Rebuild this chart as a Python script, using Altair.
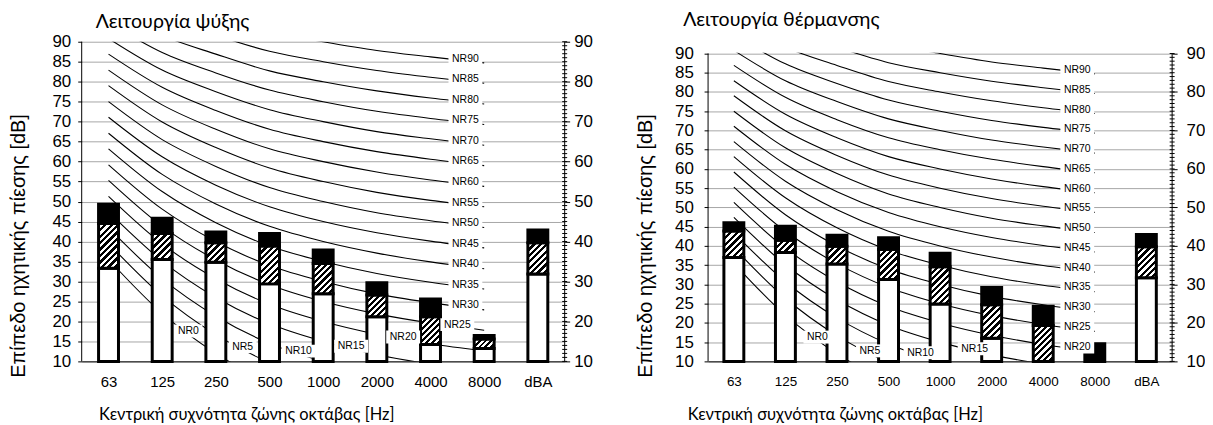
import json
import altair as alt
import pandas as pd

# ---------------- data ----------------
categories = ["63", "125", "250", "500", "1000", "2000", "4000", "8000", "dBA"]

# Cooling mode (stacked levels, dB)
cool_low = [33.3, 35.5, 34.8, 29.4, 26.9, 21.2, 14.2, 13.2, 31.9]
cool_mid = [44.5, 42.0, 39.7, 38.9, 34.5, 26.6, 21.2, 15.6, 39.7]
cool_high = [49.3, 45.8, 42.4, 42.0, 37.9, 29.7, 25.6, 16.5, 42.9]

# Heating mode
heat_low = [37.0, 38.3, 35.3, 31.3, 24.9, 16.0, 10.0, 10.0, 31.7]
heat_mid = [43.9, 41.5, 39.9, 39.1, 34.6, 24.7, 19.3, 10.0, 39.8]
heat_high = [46.0, 45.1, 42.8, 42.1, 38.1, 29.2, 24.3, 14.6, 43.0]

# NR curves (63 ... 8000 Hz)
nr_levels = [0, 5, 10, 15, 20, 25, 30, 35, 40, 45, 50, 55, 60, 65, 70, 75, 80, 85, 90]
nr_table = {
    0: [35.5, 22.0, 12.0, 4.8, 0.0, -3.5, -6.1, -8.0],
    5: [39.5, 26.4, 16.7, 9.7, 5.0, 1.6, -1.0, -2.9],
    10: [43.4, 30.7, 21.3, 14.5, 10.0, 6.6, 4.2, 2.3],
    15: [47.4, 35.1, 26.0, 19.4, 15.0, 11.7, 9.3, 7.5],
    20: [51.3, 39.4, 30.7, 24.3, 20.0, 16.8, 14.4, 12.6],
    25: [55.3, 43.8, 35.4, 29.2, 25.0, 21.9, 19.6, 17.8],
    30: [59.2, 48.1, 40.0, 34.0, 30.0, 26.9, 24.7, 22.9],
    35: [63.2, 52.5, 44.7, 38.9, 35.0, 32.0, 29.8, 28.1],
    40: [67.1, 56.8, 49.4, 43.8, 40.0, 37.1, 34.9, 33.2],
    45: [71.1, 61.2, 54.1, 48.7, 45.0, 42.2, 40.1, 38.4],
    50: [75.0, 65.5, 58.8, 53.5, 50.0, 47.2, 45.2, 43.5],
    55: [79.0, 69.9, 63.5, 58.4, 55.0, 52.3, 50.3, 48.7],
    60: [82.9, 74.2, 68.1, 63.2, 60.0, 57.4, 55.4, 53.8],
    65: [86.9, 78.6, 72.8, 68.1, 65.0, 62.5, 60.6, 59.0],
    70: [90.8, 82.9, 77.5, 73.0, 70.0, 67.5, 65.7, 64.1],
    75: [94.8, 87.3, 82.2, 77.9, 75.0, 72.6, 70.8, 69.3],
    80: [98.7, 91.6, 86.9, 82.7, 80.0, 77.7, 75.9, 74.4],
    85: [102.7, 96.0, 91.6, 87.6, 85.0, 82.8, 81.1, 79.6],
    90: [106.6, 100.3, 96.2, 92.5, 90.0, 87.8, 86.2, 84.7],
}

# where each NR label sits along its curve (category index units)
cool_label_pos = [1.49, 2.50, 3.54, 4.52, 5.49, 6.50, 6.65, 6.65, 6.65, 6.65,
                  6.65, 6.65, 6.65, 6.65, 6.65, 6.65, 6.65, 6.65, 6.65]
heat_label_pos = [1.62, 2.64, 3.62, 4.67, 6.66, 6.66, 6.66, 6.66, 6.66, 6.66,
                  6.66, 6.66, 6.66, 6.66, 6.66, 6.66, 6.66, 6.66, 6.66]

y_ticks_left = [10, 15, 20, 25, 30, 35, 40, 45, 50, 55, 60, 65, 70, 75, 80, 85, 90]
y_ticks_right = [10, 20, 30, 40, 50, 60, 70, 80, 90]
minor_ticks = list(range(10, 91))

X_TITLE = "Κεντρική συχνότητα ζώνης οκτάβας [Hz]"
Y_TITLE = "Επίπεδο ηχητικής πίεσης [dB]"
AX_FONT = "Liberation Sans"
TT_FONT = "Lato, 'Open Sans', sans-serif"

BOX4 = "M-17,-8.5H17V4.5H-17Z"
BOX3 = "M-14,-8.5H14V4.5H-14Z"
BAR_W = 20
Y_MIN, Y_MAX = 10, 90


def interp(vals, p):
    i = int(p)
    if i >= len(vals) - 1:
        return vals[-1]
    f = p - i
    return vals[i] * (1 - f) + vals[i + 1] * f


def hatch(w, h, period=6.4, black=0.5):
    c = (1 / h + 1 / w) / (1 / h ** 2 + 1 / w ** 2)
    x2 = c / h
    y2 = c / w
    n = max(1, round((w + h) / period))
    stops = []
    for k in range(n):
        a = k / n
        b = (k + black) / n
        e = (k + 1) / n
        stops += [
            alt.GradientStop(offset=a, color="black"),
            alt.GradientStop(offset=b, color="black"),
            alt.GradientStop(offset=b, color="white"),
            alt.GradientStop(offset=e, color="white"),
        ]
    return alt.Gradient(gradient="linear", x1=0, y1=0, x2=x2, y2=y2, stops=stops)


def panel(title, low, mid, high, label_pos, W, H, s):
    ytop = s["ytop"]
    ppd = H / (ytop - Y_MIN)
    xs = alt.Scale(domain=[-0.5, 8.5], nice=False, zero=False, padding=0)
    ys = alt.Scale(domain=[Y_MIN, ytop], nice=False, zero=False, padding=0)
    label_expr = json.dumps(categories) + "[datum.value]"
    x_axis = alt.Axis(
        values=list(range(9)), labelExpr=label_expr, ticks=False, grid=False,
        domainColor="black", domainWidth=1, labelFont=AX_FONT,
        labelFontSize=s["xlab"], labelColor="black", labelPadding=s["xlabpad"],
        title=X_TITLE, titleFont=TT_FONT, titleFontSize=16.5,
        titleFontWeight="normal", titleColor="black", titleAlign="left",
        titleBaseline="alphabetic", titleX=s["xtx"], titleY=s["xty"],
    )
    left_axis = alt.Axis(
        orient="left", values=y_ticks_left, grid=True, gridColor="#a6a6a6",
        gridWidth=1, tickSize=4, tickColor="black", domain=False,
        labelFont=AX_FONT, labelFontSize=17, labelColor="black",
        labelPadding=s["ylabpad"], title=Y_TITLE, titleFont=AX_FONT,
        titleFontSize=20, titleFontWeight="normal", titleColor="black",
        titleAngle=270, titleAlign="left", titleBaseline="middle",
        titleX=s["ytx"], titleY=H + 16,
    )
    right_axis = alt.Axis(
        orient="right", values=y_ticks_right, grid=False, tickSize=5,
        tickColor="black", domain=False, labelFont=AX_FONT,
        labelFontSize=17, labelColor="black", labelPadding=s["rlabpad"],
        title=None,
    )

    X = alt.X("idx:Q", scale=xs, axis=x_axis)

    # NR curves
    rows = []
    for lv in nr_levels:
        for i, v in enumerate(nr_table[lv]):
            rows.append({"idx": i, "v": v, "nr": lv})
    curves = alt.Chart(pd.DataFrame(rows)).mark_line(
        color="black", strokeWidth=1.1, clip=True, interpolate="monotone"
    ).encode(x=X, y=alt.Y("v:Q", scale=ys, axis=left_axis), detail="nr:N")
    layers = [curves]

    # white band hiding the curves above the 90 dB line (only if domain > 90)
    if ytop > Y_MAX:
        mdf = pd.DataFrame({"m1": [Y_MAX + 0.6 / ppd], "m2": [ytop + 3]})
        mask = alt.Chart(mdf).mark_rect(
            fill="white", fillOpacity=1, strokeWidth=0
        ).encode(
            x=alt.value(-1), x2=alt.value(W + 1),
            y=alt.Y("m1:Q", scale=ys, axis=None), y2="m2:Q",
        )
        layers.append(mask)

    # axis lines (left / right) spanning 10..90
    edges = pd.DataFrame({"idx": [-0.5, 8.5], "e1": [Y_MIN, Y_MIN], "e2": [Y_MAX, Y_MAX]})
    layers.append(
        alt.Chart(edges).mark_rule(color="black", strokeWidth=1).encode(
            x=X, y=alt.Y("e1:Q", scale=ys, axis=None), y2="e2:Q")
    )

    df = pd.DataFrame({"idx": list(range(9)), "base": [Y_MIN] * 9,
                       "low": low, "mid": mid, "high": high})
    white = alt.Chart(df[df["low"] > Y_MIN]).mark_bar(
        fill="white", stroke="black", strokeWidth=3, size=BAR_W
    ).encode(x=X, y=alt.Y("base:Q", scale=ys, axis=None), y2="low:Q")
    layers.append(white)
    for i in range(9):
        lo = max(low[i], Y_MIN)
        if mid[i] <= lo:
            continue
        h = (mid[i] - lo) * ppd
        sub = df.iloc[[i]].copy()
        sub["lo"] = lo
        layers.append(
            alt.Chart(sub).mark_bar(
                fill=hatch(BAR_W, h), stroke="black", strokeWidth=3, size=BAR_W
            ).encode(x=X, y=alt.Y("lo:Q", scale=ys, axis=None), y2="mid:Q")
        )
    dfb = df.copy()
    dfb["m2b"] = [max(m, Y_MIN) for m in mid]
    black = alt.Chart(dfb).mark_bar(
        fill="black", stroke="black", strokeWidth=3, size=BAR_W
    ).encode(x=X, y=alt.Y("m2b:Q", scale=ys, axis=None), y2="high:Q")
    layers.append(black)

    minor = alt.Chart(pd.DataFrame({"t": minor_ticks})).mark_tick(
        orient="horizontal", size=5, thickness=1, color="black", opacity=1
    ).encode(x=alt.value(W), y=alt.Y("t:Q", scale=ys, axis=right_axis))
    layers.append(minor)

    lab_rows = []
    for lv, p in zip(nr_levels, label_pos):
        txt = "NR%d" % lv
        lab_rows.append({"pos": p, "ly": interp(nr_table[lv], p), "text": txt,
                         "n": len(txt)})
    lab = pd.DataFrame(lab_rows)
    XP = alt.X("pos:Q", scale=xs, axis=x_axis)
    for n, path in ((4, BOX4), (3, BOX3)):
        layers.append(
            alt.Chart(lab[lab["n"] == n]).mark_point(
                shape=path, size=4, filled=True, color="white", opacity=1,
                strokeWidth=0
            ).encode(x=XP, y=alt.Y("ly:Q", scale=ys, axis=None))
        )
    layers.append(
        alt.Chart(lab).mark_text(
            font=AX_FONT, fontSize=10.5, color="black", dy=-2,
            baseline="middle", align="center"
        ).encode(x=XP, y=alt.Y("ly:Q", scale=ys, axis=None), text="text:N")
    )

    return alt.layer(*layers).resolve_axis(y="independent").properties(
        width=W, height=H,
        title=alt.TitleParams(
            title, anchor="start", frame="group", dx=s["tdx"], offset=s["toff"],
            font=TT_FONT, fontSize=19.6, fontWeight="normal", color="black",
        ),
    )


cool_spec = dict(ytop=90, xlab=15, xlabpad=13, xtx=17, xty=58,
                 ylabpad=7, ytx=-63, rlabpad=4, tdx=14, toff=0)
heat_spec = dict(ytop=93.05, xlab=13.5, xlabpad=13.6, xtx=-21,
                 xty=58.5, ylabpad=10.7, ytx=-62.7, rlabpad=9, tdx=-25, toff=0)

c1 = panel("Λειτουργία ψύξης", cool_low, cool_mid, cool_high, cool_label_pos,
           485, 321, cool_spec)
c2 = panel("Λειτουργία θέρμανσης", heat_low, heat_mid, heat_high,
           heat_label_pos, 466, 321, heat_spec)

chart = alt.hconcat(c1, c2, spacing=43).configure_view(stroke=None).properties(
    padding={"left": 0, "top": 0, "right": 0, "bottom": 0}
)

chart.save("out.html", embed_options={"renderer": "svg", "actions": False})
